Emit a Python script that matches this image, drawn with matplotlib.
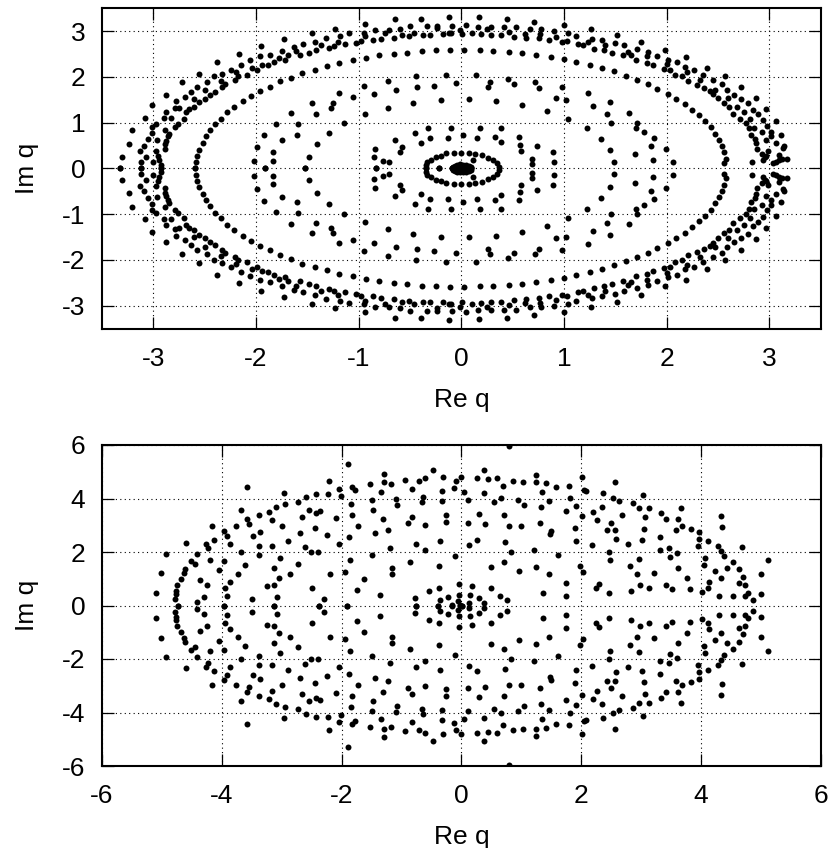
import numpy as np
import matplotlib
matplotlib.use("Agg")
import matplotlib.pyplot as plt

plt.rcParams['font.family'] = ['Liberation Sans', 'DejaVu Sans']
plt.rcParams['axes.unicode_minus'] = False

# eigenvalues come in conjugate pairs, only Im q >= 0 is listed
# top panel
outer_re = [-3.32, -3.31, -3.24, -3.21, -3.08, -3.01, -2.88, -2.72, -2.56, -2.38,
            -2.17, -1.95, -1.73, -1.45, -1.23, -1.09, -0.94, -0.65, -0.39, -0.12]
outer_im = [0.0, 0.26, 0.53, 0.84, 1.10, 1.39, 1.61, 1.88, 2.07, 2.33,
            2.50, 2.67, 2.82, 2.97, 3.05, 2.95, 3.15, 3.26, 3.26, 3.32]

band_left_re = [-3.13, -3.09, -3.07, -3.12, -3.12, -3.05, -3.01, -3.01, -2.97, -3.0,
                -2.97, -2.96, -2.95, -2.94, -2.93, -2.93, -2.90, -2.88, -2.83, -2.89,
                -2.85, -2.86, -2.88, -2.89, -2.89, -2.79, -2.76, -2.70, -2.79, -2.75,
                -2.78, -2.69, -2.63, -2.57, -2.48, -2.41, -2.33, -2.24, -2.19, -2.15,
                -2.06, -1.96, -1.86, -1.75, -1.63, -1.54, -1.43, -1.32, -1.18, -0.95,
                -0.84, -0.74, -0.70, -0.60, -0.50, -0.46, -0.33, -0.24, -0.24, -0.18,
                -0.12]
band_left_im = [0.38, 0.50, 0.25, 0.13, 0.0, 0.64, 0.77, 0.91, 0.98, 0.14,
                0.39, 0.62, 0.28, 0.19, 0.07, 0.0, 1.11, 1.23, 1.10, 0.85,
                0.76, 0.70, 0.60, 0.53, 0.42, 0.91, 0.98, 1.08, 1.33, 1.31,
                1.47, 1.57, 1.68, 1.79, 1.88, 2.01, 2.06, 2.15, 2.10, 2.27,
                2.36, 2.45, 2.49, 2.56, 2.65, 2.71, 2.76, 2.85, 2.90, 2.96,
                3.02, 2.96, 3.03, 3.05, 3.11, 2.97, 3.11, 3.11, 3.06, 2.93,
                2.96]

row_left_re = [-2.68, -2.65, -2.60, -2.56, -2.60, -2.50, -2.45, -2.40, -2.50, -2.33,
               -2.30, -2.34, -2.20, -2.18, -2.09, -2.04, -1.99, -1.94, -1.88, -1.82,
               -1.78, -1.72, -1.69, -1.61, -1.57, -1.48, -1.42, -1.37, -1.29, -1.24,
               -1.20, -1.13, -1.03, -0.98, -0.94, -0.86, -0.78, -0.66, -0.58, -0.51,
               -0.37, -0.31]
row_left_im = [1.23, 1.30, 1.35, 1.45, 1.51, 1.52, 1.61, 1.68, 1.72, 1.78,
               1.84, 1.91, 1.93, 2.01, 2.04, 2.20, 2.16, 2.25, 2.26, 2.33,
               2.42, 2.37, 2.47, 2.56, 2.47, 2.53, 2.58, 2.69, 2.64, 2.67,
               2.77, 2.71, 2.75, 2.79, 2.89, 2.80, 2.83, 2.85, 2.91, 2.89,
               2.92, 2.91]

ring_left_re = [-2.59, -2.58, -2.57, -2.56, -2.52, -2.49, -2.45, -2.40, -2.34, -2.28,
                -2.21, -2.13, -2.05, -1.96, -1.86, -1.77, -1.66, -1.55, -1.43, -1.31,
                -1.19, -1.06, -0.93, -0.80, -0.66, -0.53, -0.38, -0.25, -0.11]
ring_left_im = [0.0, 0.14, 0.28, 0.41, 0.55, 0.70, 0.83, 0.97, 1.09, 1.23,
                1.34, 1.47, 1.58, 1.69, 1.79, 1.90, 1.98, 2.08, 2.15, 2.23,
                2.30, 2.36, 2.42, 2.47, 2.51, 2.53, 2.56, 2.58, 2.59]

inner_left_re = [-2.02, -1.99, -1.92, -1.91, -1.83, -1.83, -1.81, -1.75, -1.66, -1.60,
                 -1.59, -1.52, -1.48, -1.45, -1.42, -1.41, -1.29, -1.27, -1.25, -1.19,
                 -1.14, -1.06, -0.95, -0.94, -0.85, -0.85, -0.84, -0.83, -0.76, -0.70,
                 -0.71, -0.71, -0.64, -0.65, -0.58, -0.60, -0.44, -0.43, -0.47, -0.45,
                 -0.39, -0.32, -0.31, -0.27, -0.20, -0.15, -0.10, -0.13, -0.05]
inner_left_im = [0.16, 0.46, 0.72, 0.0, 0.35, 0.16, 0.96, 0.63, 1.21, 0.74,
                 0.97, 0.0, 0.26, 1.42, 1.19, 0.53, 0.77, 1.31, 1.42, 1.64,
                 0.99, 1.57, 1.80, 1.18, 1.62, 0.24, 0.42, 0.0, 0.17, 0.13,
                 1.92, 1.33, 1.72, 0.61, 0.47, 0.36, 2.01, 1.77, 1.43, 0.78,
                 0.55, 0.88, 0.67, 1.81, 1.50, 2.05, 0.88, 0.67, 1.86]

band_right_re = [-0.09, -0.10, -0.01, 0.01, 0.05, 0.10, 0.17, 0.16, 0.19, 0.25,
                 0.29, 0.29, 0.39, 0.42, 0.44, 0.46, 0.51, 0.53, 0.62, 0.63,
                 0.67, 0.71, 0.76, 0.78, 0.77, 0.85, 0.90, 0.92, 0.98, 1.03,
                 1.00, 1.04, 1.12, 1.14, 1.18, 1.23, 1.27, 1.26, 1.29, 1.37,
                 1.40, 1.39, 1.50, 1.52, 1.47, 1.58, 1.57, 1.62, 1.65, 1.71,
                 1.70, 1.75, 1.81, 1.81, 1.82, 1.87, 1.91, 1.98, 2.01, 2.00,
                 1.97, 2.03, 2.08, 2.10, 2.19, 2.15, 2.18, 2.20, 2.21, 2.27,
                 2.32, 2.35, 2.39, 2.30, 2.36, 2.42, 2.45, 2.47, 2.45, 2.50,
                 2.54, 2.57, 2.59, 2.60, 2.56, 2.61, 2.66, 2.68, 2.65, 2.72,
                 2.72, 2.75, 2.79, 2.71, 2.77, 2.81, 2.87, 2.84, 2.89, 2.97,
                 2.94, 2.80, 2.85, 2.98, 3.06, 2.82, 2.86, 2.87, 2.93, 3.02,
                 3.02, 3.11, 2.97, 3.06, 2.88, 2.93, 2.96, 2.94, 2.99, 2.97,
                 3.14, 3.13, 3.09, 3.09, 3.04, 3.12, 3.17, 3.06]
band_right_im = [3.11, 2.96, 3.02, 2.93, 3.13, 2.96, 3.30, 3.10, 2.94, 3.04,
                 3.10, 2.91, 2.91, 3.09, 3.26, 2.99, 2.88, 3.09, 2.94, 2.85,
                 3.04, 3.21, 2.84, 3.04, 2.94, 2.80, 3.00, 2.88, 2.77, 2.79,
                 3.14, 2.96, 2.90, 2.71, 2.69, 2.77, 2.83, 3.04, 2.62, 2.80,
                 2.69, 2.58, 2.74, 2.92, 2.53, 2.69, 2.47, 2.55, 2.48, 2.61,
                 2.36, 2.77, 2.31, 2.45, 2.55, 2.25, 2.46, 2.58, 2.38, 2.28,
                 2.17, 2.16, 2.05, 2.33, 2.44, 2.01, 2.21, 2.11, 1.90, 2.15,
                 1.93, 2.04, 2.20, 1.82, 1.76, 1.69, 1.94, 1.72, 1.63, 1.53,
                 1.85, 2.01, 1.71, 1.53, 1.42, 1.34, 1.61, 1.35, 1.20, 1.78,
                 1.52, 1.24, 1.43, 1.08, 0.99, 1.08, 1.54, 1.27, 1.18, 1.30,
                 1.06, 0.88, 0.88, 0.92, 1.03, 0.74, 0.64, 0.55, 0.80, 0.80,
                 0.70, 0.74, 0.61, 0.55, 0.43, 0.31, 0.26, 0.18, 0.37, 0.28,
                 0.50, 0.45, 0.30, 0.19, 0.12, 0.20, 0.20, 0.15]

ring_right_re = [0.03, 0.18, 0.31, 0.46, 0.59, 0.73, 0.87, 1.00, 1.12, 1.25,
                 1.37, 1.49, 1.60, 1.71, 1.82, 1.91, 2.01, 2.09, 2.18, 2.25,
                 2.31, 2.37, 2.43, 2.47, 2.51, 2.54, 2.56, 2.58, 2.56]
ring_right_im = [2.59, 2.58, 2.57, 2.55, 2.52, 2.48, 2.44, 2.39, 2.33, 2.26,
                 2.19, 2.12, 2.03, 1.94, 1.84, 1.74, 1.63, 1.52, 1.41, 1.28,
                 1.16, 1.03, 0.91, 0.76, 0.63, 0.50, 0.36, 0.20, 0.12]

inner_right_re = [0.07, 0.18, 0.14, 0.02, 0.15, 0.28, 0.26, 0.34, 0.39, 0.33,
                  0.39, 0.45, 0.51, 0.59, 0.56, 0.57, 0.58, 0.74, 0.72, 0.76,
                  0.83, 0.89, 0.90, 0.69, 0.69, 0.92, 0.98, 1.02, 1.04, 1.23,
                  1.22, 1.28, 1.36, 1.42, 1.46, 1.45, 1.45, 1.49, 1.63, 1.69,
                  1.71, 1.70, 1.78, 1.85, 1.88, 1.87, 1.99, 2.06, 2.83]
inner_right_im = [1.51, 0.89, 2.04, 0.74, 0.67, 1.88, 1.77, 1.47, 0.88, 0.69,
                  0.58, 1.96, 1.85, 1.38, 0.69, 0.51, 0.37, 0.48, 1.88, 1.76,
                  1.26, 0.36, 0.14, 0.20, 0.10, 1.53, 1.79, 1.50, 1.09, 1.65,
                  0.88, 1.36, 0.65, 1.19, 0.99, 1.46, 0.41, 0.13, 1.22, 0.31,
                  0.99, 0.88, 0.80, 0.49, 0.67, 0.18, 0.42, 0.15, 0.15]

small_ring_re = [-0.34, -0.34, -0.33, -0.30, -0.25, -0.20, -0.15, -0.22, -0.07, 0.0,
                 0.07, 0.13, 0.20, 0.11, 0.26, 0.31, 0.35, 0.37]
small_ring_im = [0.0, 0.08, 0.14, 0.19, 0.25, 0.28, 0.33, 0.0, 0.34, 0.34,
                 0.34, 0.31, 0.29, 0.19, 0.23, 0.18, 0.12, 0.04]

blob_re = [-0.093, -0.085, -0.066, -0.04, -0.01, 0.02, 0.05, 0.075, 0.09, 0.093,
           -0.05, 0.0, 0.05, -0.05, 0.0, 0.05]
blob_im = [0.0, 0.035, 0.06, 0.08, 0.086, 0.085, 0.075, 0.05, 0.025, 0.0,
           0.03, 0.04, 0.03, 0.0, 0.0, 0.0]

# bottom panel
low_left_re = [-5.10, -5.01, -4.93, -4.78, -4.76, -4.76, -4.73, -4.74, -4.68, -4.63,
               -4.61, -4.59, -4.51, -4.44, -4.41, -4.42, -4.37, -4.29, -4.25, -4.26,
               -4.23, -4.20, -4.17, -4.13, -4.05, -3.97, -3.97, -3.96, -3.94, -3.91,
               -3.91, -3.87, -3.87, -3.77, -3.73, -3.68, -3.68, -3.61, -3.58, -3.58,
               -3.55, -3.49, -3.48, -3.38, -3.38, -3.38, -3.36, -3.25, -3.21, -3.16,
               -3.16, -3.12, -3.12, -3.12, -3.10, -3.07, -3.04, -3.02, -2.99, -2.96,
               -2.95, -2.89, -2.86, -2.73, -2.72, -2.69, -2.66, -2.61, -2.59, -2.54,
               -2.51, -2.50, -2.45, -2.42, -2.42, -2.40, -2.36, -2.37, -2.30, -2.24,
               -2.22, -2.21, -2.20, -2.10, -2.05, -2.04, -2.01, -1.95, -1.91, -1.90,
               -1.87, -1.86, -1.84, -1.82, -1.82, -1.78, -1.74, -1.72, -1.63, -1.52,
               -1.50, -1.49, -1.47, -1.45, -1.35, -1.34, -1.30, -1.29, -1.29, -1.23,
               -1.19, -1.17, -1.16, -1.16, -1.09, -1.08, -0.94, -0.89, -0.86, -0.83,
               -0.82, -0.78, -0.75, -0.75, -0.70, -0.65, -0.64, -0.61, -0.60, -0.60,
               -0.54, -0.48, -0.38, -0.39, -0.38, -0.36, -0.36, -0.32, -0.32, -0.31,
               -0.25, -0.25, -0.23]
low_left_im = [0.47, 1.22, 1.91, 0.24, 0.42, 0.56, 0.0, 0.78, 0.98, 1.20,
               1.35, 2.35, 1.65, 1.57, 1.91, 0.12, 0.96, 0.32, 0.76, 2.29,
               2.16, 1.69, 2.96, 2.43, 1.34, 2.80, 0.0, 1.68, 0.66, 0.36,
               2.61, 2.29, 0.89, 2.97, 1.16, 2.01, 3.58, 1.50, 3.23, 4.42,
               3.06, 0.24, 2.60, 2.24, 3.38, 1.88, 2.76, 0.72, 3.49, 2.24,
               3.18, 1.39, 0.75, 0.0, 3.68, 0.32, 1.01, 1.78, 2.99, 4.21,
               3.78, 2.41, 1.17, 1.54, 3.88, 2.72, 3.30, 2.20, 4.04, 3.57,
               2.01, 0.66, 2.91, 3.44, 4.16, 1.99, 3.52, 0.0, 0.26, 2.65,
               4.15, 4.65, 1.17, 3.27, 4.35, 2.31, 4.10, 1.24, 0.0, 5.30,
               2.57, 1.70, 3.79, 4.42, 3.40, 4.31, 0.57, 2.97, 0.99, 4.56,
               1.89, 3.94, 3.58, 2.72, 0.40, 4.25, 3.23, 4.93, 4.63, 2.83,
               2.16, 4.56, 1.40, 1.18, 3.99, 3.74, 4.68, 3.08, 1.64, 4.36,
               3.30, 0.27, 2.30, 0.0, 4.66, 3.86, 4.06, 2.07, 4.78, 3.02,
               0.55, 5.06, 1.48, 0.0, 0.67, 2.42, 0.19, 3.89, 4.29, 4.81,
               3.37, 3.11, 0.32]

low_mid_re = [-0.12, -0.09, -0.01, 0.04, 0.11, 0.11, 0.12, 0.26, -0.10, -0.04,
              -0.04, -0.05, -0.02, -0.16, 0.14, 0.13, 0.18, 0.30, 0.38, 0.50,
              0.50, 0.26, 0.30, 0.37, 0.37, 0.39, 0.45, 0.55, 0.60, 0.65,
              0.66, 0.69, 0.71, 0.72, 0.73, 0.77, 0.79, 0.80, 0.83, 0.86,
              0.95, 0.97, 0.99, 1.03, 1.04, 0.01]
low_mid_im = [4.41, 4.65, 4.81, 4.26, 3.93, 3.09, 2.25, 2.43, 1.84, 0.82,
              0.40, 0.17, 0.02, 0.01, 0.39, 0.11, 0.72, 0.27, 0.11, 0.66,
              1.43, 4.75, 3.43, 5.08, 4.21, 3.04, 4.72, 3.88, 4.78, 0.37,
              4.02, 4.48, 3.37, 1.63, 2.36, 0.19, 5.95, 2.99, 1.99, 4.66,
              3.96, 1.30, 2.99, 4.61, 3.74, 0.0]

low_right_re = [1.21, 1.24, 1.25, 1.24, 1.31, 1.33, 1.35, 1.36, 1.41, 1.47,
                1.47, 1.49, 1.48, 1.58, 1.61, 1.74, 1.74, 1.74, 1.80, 1.82,
                1.89, 1.92, 1.91, 1.98, 2.03, 2.01, 2.02, 2.05, 2.08, 2.18,
                2.20, 2.27, 2.25, 2.29, 2.36, 2.35, 2.46, 2.44, 2.47, 2.49,
                2.50, 2.56, 2.54, 2.56, 2.64, 2.58, 2.69, 2.78, 2.81, 2.84,
                2.87, 2.94, 2.96, 2.97, 2.99, 3.02, 3.05, 3.06, 3.03, 3.14,
                3.14, 3.22, 3.31, 3.32, 3.33, 3.41, 3.42, 3.46, 3.48, 3.51,
                3.59, 3.61, 3.60, 3.62, 3.67, 3.69, 3.76, 3.82, 3.84, 3.95,
                3.96, 3.97, 4.02, 4.05, 4.06, 4.11, 4.12, 4.13, 4.24, 4.28,
                4.31, 4.33, 4.33, 4.34, 4.36, 4.39, 4.44, 4.53, 4.54, 4.63,
                4.64, 4.69, 4.70, 4.74, 4.74, 4.79, 4.87, 5.00, 5.01, 5.12]
low_right_im = [2.09, 4.88, 4.62, 1.43, 3.08, 3.68, 4.24, 0.48, 4.57, 3.89,
                1.17, 2.77, 2.68, 4.43, 1.89, 3.54, 0.84, 0.34, 4.45, 4.02,
                2.89, 3.73, 2.42, 1.47, 1.24, 3.34, 4.80, 4.31, 4.27, 2.25,
                3.50, 3.18, 0.67, 0.82, 4.22, 3.70, 0.45, 2.84, 1.99, 1.70,
                3.08, 2.84, 4.02, 4.60, 3.91, 2.50, 3.38, 2.30, 1.47, 0.55,
                3.83, 1.16, 1.74, 3.66, 0.77, 2.45, 2.87, 3.29, 4.14, 3.65,
                0.66, 1.23, 2.07, 2.55, 3.45, 0.76, 3.24, 2.16, 1.80, 0.60,
                2.83, 3.23, 1.95, 1.39, 3.65, 2.98, 1.03, 0.63, 2.86, 2.22,
                2.73, 2.50, 0.50, 1.50, 1.78, 0.66, 2.40, 0.88, 1.29, 2.24,
                0.36, 1.03, 2.02, 3.35, 2.93, 1.84, 1.39, 1.61, 0.36, 1.35,
                0.84, 2.20, 1.06, 0.76, 0.35, 0.45, 0.21, 0.43, 1.17, 1.71]

top_re = np.array(outer_re + band_left_re + row_left_re + ring_left_re + inner_left_re
                  + band_right_re + ring_right_re + inner_right_re + small_ring_re + blob_re)
top_im = np.array(outer_im + band_left_im + row_left_im + ring_left_im + inner_left_im
                  + band_right_im + ring_right_im + inner_right_im + small_ring_im + blob_im)
bottom_re = np.array(low_left_re + low_mid_re + low_right_re)
bottom_im = np.array(low_left_im + low_mid_im + low_right_im)

W, H = 831, 848
FS = 19
MS = 4.3
fig = plt.figure(figsize=(W / 100, H / 100), dpi=100)


def make_axes(left, right, top, bottom):
    ax = fig.add_axes([left / W, 1 - bottom / H, (right - left) / W, (bottom - top) / H])
    ax.grid(True, color="black", lw=0.8, ls=(0, (1, 3)))
    ax.set_axisbelow(True)
    ax.tick_params(direction="in", top=True, right=True, length=8.8, width=0.9,
                   labelsize=FS)
    ax.tick_params(axis="x", pad=13)
    ax.tick_params(axis="y", pad=12)
    for side in ax.spines.values():
        side.set_linewidth(1.5)
    return ax


ax1 = make_axes(102, 820.7, 8.3, 328.5)
ax1.plot(top_re, top_im, "o", color="black", ms=MS, mew=0)
ax1.plot(top_re, -top_im, "o", color="black", ms=MS, mew=0)
ax1.set_xlim(-3.5, 3.5)
ax1.set_ylim(-3.5, 3.5)
ax1.set_xticks(np.arange(-3, 4))
ax1.set_yticks(np.arange(-3, 4))
ax1.set_xlabel("Re q", fontsize=FS)
ax1.set_ylabel("Im q", fontsize=FS)
ax1.xaxis.set_label_coords(0.5, -0.187)
ax1.yaxis.set_label_coords(-0.088, 0.5)

ax2 = make_axes(102, 820.7, 445, 766)
ax2.plot(bottom_re, bottom_im, "o", color="black", ms=MS, mew=0)
ax2.plot(bottom_re, -bottom_im, "o", color="black", ms=MS, mew=0)
ax2.set_xlim(-6, 6)
ax2.set_ylim(-6, 6)
ax2.set_xticks(np.arange(-6, 7, 2))
ax2.set_yticks(np.arange(-6, 7, 2))
ax2.set_xlabel("Re q", fontsize=FS)
ax2.set_ylabel("Im q", fontsize=FS)
ax2.xaxis.set_label_coords(0.5, -0.184)
ax2.yaxis.set_label_coords(-0.088, 0.5)

fig.savefig("out.png", dpi=100)
